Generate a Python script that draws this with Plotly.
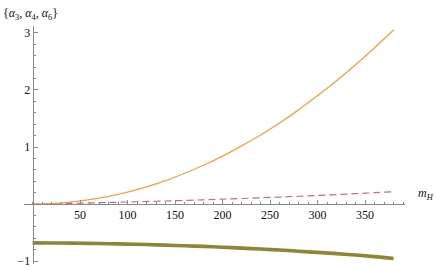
import plotly.graph_objects as go

m_h = [0, 20, 40, 60, 80, 100, 120, 140, 160, 180, 200, 220, 240, 260, 280, 300, 320, 340, 360, 380]
alpha3 = [0.0, 0.008, 0.034, 0.076, 0.135, 0.21, 0.30, 0.41, 0.54, 0.68, 0.84, 1.02, 1.21, 1.42, 1.65, 1.90, 2.16, 2.44, 2.74, 3.05]
alpha4 = [0.0, 0.005, 0.012, 0.02, 0.028, 0.036, 0.045, 0.054, 0.064, 0.075, 0.086, 0.098, 0.11, 0.123, 0.137, 0.151, 0.166, 0.182, 0.199, 0.217]
alpha6 = [-0.680, -0.681, -0.684, -0.688, -0.694, -0.701, -0.709, -0.719, -0.730, -0.742, -0.756, -0.771, -0.788, -0.806, -0.826, -0.847, -0.868, -0.893, -0.921, -0.955]

x_ticks = [50, 100, 150, 200, 250, 300, 350]
y_ticks = [-1, 1, 2, 3]

W, H = 436, 267
ML, MR, MT, MB = 24, 31, 26, 3
PW, PH = W - ML - MR, H - MT - MB

xr = [-9, 392]
yr = [-1.05, 3.12]

# positions (plot-area fractions) of the axes crossing at the origin
x_axis_pos = (0 - yr[0]) / (yr[1] - yr[0])
y_axis_pos = (0 - xr[0]) / (xr[1] - xr[0])

fig = go.Figure()
fig.add_trace(go.Scatter(x=m_h, y=alpha6, mode="lines", line=dict(color="#8f8535", width=3.6), line_shape="spline"))
fig.add_trace(go.Scatter(x=m_h, y=alpha4, mode="lines", line=dict(color="#c06a98", width=1.2, dash="7px,4px"), line_shape="spline"))
fig.add_trace(go.Scatter(x=m_h, y=alpha3, mode="lines", line=dict(color="#f7a040", width=1.3), line_shape="spline"))

axis_color = "#8a8a8a"
serif = "Liberation Serif, Times New Roman, DejaVu Serif, serif"
tick_font = dict(family=serif, size=12, color="#111")

fig.update_layout(
    width=W, height=H,
    margin=dict(l=ML, r=MR, t=MT, b=MB, autoexpand=False),
    paper_bgcolor="white", plot_bgcolor="white",
    showlegend=False,
    font=dict(family=serif),
    xaxis=dict(range=xr, showgrid=False, zeroline=False, showline=True, linecolor=axis_color, linewidth=1,
               anchor="free", position=x_axis_pos, automargin=False, ticklabeloverflow="allow",
               tickvals=x_ticks, ticks="inside", ticklen=4, tickcolor=axis_color, tickfont=tick_font,
               minor=dict(dtick=10, tick0=0, ticks="inside", ticklen=2, tickcolor=axis_color)),
    yaxis=dict(range=yr, showgrid=False, zeroline=False, showline=True, linecolor=axis_color, linewidth=1,
               anchor="free", position=y_axis_pos, automargin=False, ticklabeloverflow="allow",
               tickvals=y_ticks, ticktext=["\u22121", "1", "2", "3"], ticks="inside", ticklen=4, tickcolor=axis_color, tickfont=tick_font,
               minor=dict(dtick=0.2, tick0=0, ticks="inside", ticklen=2, tickcolor=axis_color)),
)

fig.add_annotation(text="{<i>α</i><sub>3</sub>, <i>α</i><sub>4</sub>, <i>α</i><sub>6</sub>}",
                   xref="paper", yref="paper", x=(1 - ML) / PW, y=1 + (MT - 14) / PH, xanchor="left", yanchor="middle",
                   showarrow=False, font=dict(family=serif, size=12, color="#111"))
fig.add_annotation(text="<i>m</i><sub><i>H</i></sub>",
                   xref="paper", yref="y", x=(416 - ML) / PW, y=0, xanchor="left", yanchor="bottom",
                   showarrow=False, font=dict(family=serif, size=12, color="#111"))

fig.write_html("out.html", config={"displayModeBar": False},
               post_script="document.body.style.margin='0';")
